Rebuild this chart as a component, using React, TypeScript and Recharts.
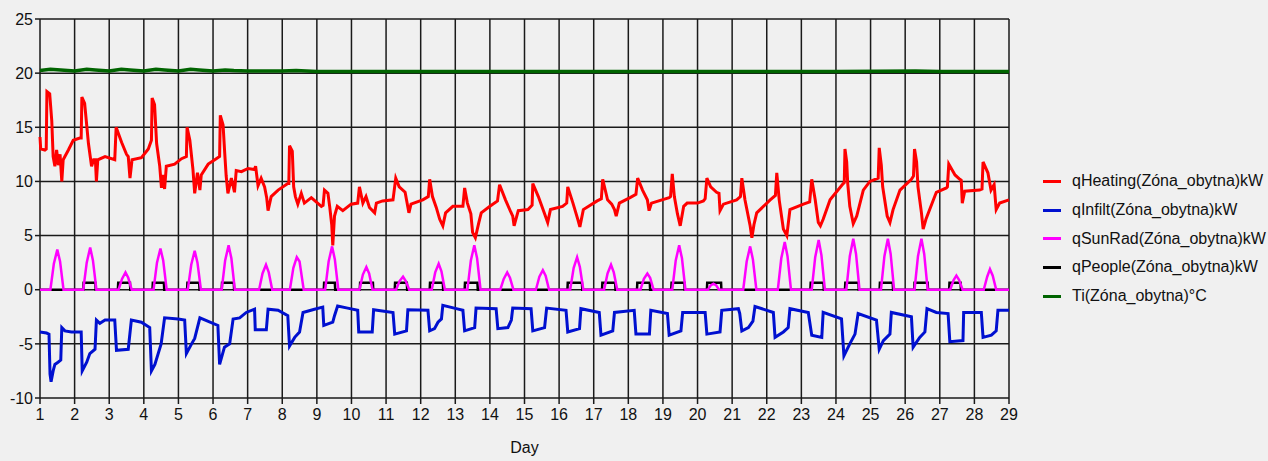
import { LineChart, Line, XAxis, YAxis, CartesianGrid } from "recharts";

type Pt = [number, number];

const DAYS = [1, 2, 3, 4, 5, 6, 7, 8, 9, 10, 11, 12, 13, 14, 15, 16, 17, 18, 19, 20, 21, 22, 23, 24, 25, 26, 27, 28, 29];
const Y_TICKS = [-10, -5, 0, 5, 10, 15, 20, 25];

// [day, kW]
const HEATING: Pt[] = [
  [1.0, 14.1], [1.02, 13.0], [1.14, 12.9], [1.18, 13.0], [1.2, 18.3], [1.28, 18.1], [1.34, 15.6], [1.38, 12.3], [1.43, 11.4],
  [1.48, 12.9], [1.53, 11.5], [1.58, 12.5], [1.63, 10.0], [1.67, 12.0], [1.82, 12.9], [1.96, 13.8], [2.15, 14.0], [2.19, 14.0],
  [2.21, 17.8], [2.29, 17.2], [2.4, 13.5], [2.49, 11.4], [2.55, 12.0], [2.6, 12.0], [2.63, 10.0], [2.67, 12.0], [2.88, 12.3],
  [3.16, 12.0], [3.2, 15.0], [3.36, 13.6], [3.5, 12.5], [3.55, 12.3], [3.6, 10.3], [3.66, 12.0], [3.93, 12.2], [4.13, 13.0],
  [4.22, 13.8], [4.24, 17.7], [4.31, 17.1], [4.37, 13.5], [4.46, 11.4], [4.51, 9.4], [4.55, 10.6], [4.6, 9.3], [4.65, 11.4],
  [4.89, 11.6], [5.09, 12.1], [5.23, 12.3], [5.25, 15.0], [5.33, 13.8], [5.42, 11.1], [5.47, 8.9], [5.55, 10.8], [5.62, 9.2],
  [5.66, 10.6], [5.86, 11.6], [6.05, 12.0], [6.19, 12.3], [6.21, 16.1], [6.29, 15.2], [6.34, 12.5], [6.38, 10.5], [6.43, 8.9],
  [6.53, 10.3], [6.62, 9.0], [6.67, 11.0], [6.82, 10.9], [7.01, 11.2], [7.2, 11.1], [7.23, 11.4], [7.3, 9.6], [7.39, 10.3],
  [7.49, 9.5], [7.55, 8.5], [7.59, 7.3], [7.68, 8.6], [7.88, 9.2], [8.16, 9.8], [8.19, 9.8], [8.21, 13.3], [8.29, 12.8],
  [8.33, 9.5], [8.38, 8.6], [8.45, 7.9], [8.55, 8.9], [8.64, 8.0], [8.84, 8.5], [9.13, 7.7], [9.18, 7.8], [9.22, 9.2],
  [9.32, 8.9], [9.37, 7.7], [9.43, 6.0], [9.46, 4.1], [9.51, 6.8], [9.59, 7.7], [9.75, 7.3], [9.99, 7.9], [10.18, 8.0],
  [10.23, 9.5], [10.33, 8.0], [10.42, 8.6], [10.52, 7.6], [10.67, 7.1], [10.72, 8.0], [10.9, 8.2], [11.2, 8.3], [11.28, 10.3],
  [11.38, 9.5], [11.55, 9.0], [11.66, 7.1], [11.72, 7.9], [12.06, 8.3], [12.22, 8.6], [12.26, 10.2], [12.34, 8.6], [12.45, 7.6],
  [12.55, 6.5], [12.64, 5.9], [12.72, 7.1], [12.93, 7.7], [13.22, 7.7], [13.27, 9.4], [13.35, 8.0], [13.45, 7.0], [13.5, 5.3],
  [13.58, 4.8], [13.68, 6.2], [13.75, 7.1], [14.0, 7.7], [14.22, 8.2], [14.28, 9.7], [14.45, 8.3], [14.6, 7.2], [14.66, 6.8],
  [14.7, 5.9], [14.82, 7.3], [15.1, 7.4], [15.22, 7.8], [15.24, 9.8], [15.4, 8.6], [15.57, 7.1], [15.67, 6.2], [15.75, 7.4],
  [16.1, 7.7], [16.22, 8.0], [16.25, 9.5], [16.4, 8.0], [16.54, 6.5], [16.6, 5.8], [16.7, 7.4], [17.1, 8.2], [17.22, 8.4],
  [17.26, 10.2], [17.4, 8.3], [17.52, 7.9], [17.6, 7.4], [17.65, 6.8], [17.74, 8.0], [18.05, 8.5], [18.22, 8.8], [18.27, 10.3],
  [18.41, 9.2], [18.55, 8.3], [18.6, 7.3], [18.67, 8.0], [19.18, 8.5], [19.22, 8.6], [19.27, 10.7], [19.33, 8.6], [19.42, 7.0],
  [19.5, 5.9], [19.6, 7.7], [19.7, 8.0], [20.0, 8.0], [20.17, 8.2], [20.22, 8.4], [20.27, 10.3], [20.38, 9.5], [20.55, 9.0],
  [20.62, 8.9], [20.65, 7.3], [20.75, 7.9], [21.13, 8.3], [21.24, 8.6], [21.28, 10.3], [21.37, 8.3], [21.52, 5.9], [21.57, 4.8],
  [21.63, 6.0], [21.71, 7.1], [22.1, 8.3], [22.25, 8.7], [22.29, 10.8], [22.36, 8.3], [22.48, 5.6], [22.58, 5.0], [22.67, 7.4],
  [23.06, 7.9], [23.24, 8.1], [23.3, 10.2], [23.4, 8.3], [23.49, 6.2], [23.55, 5.9], [23.63, 6.5], [23.83, 8.3], [24.21, 9.8],
  [24.24, 9.9], [24.26, 13.0], [24.31, 11.8], [24.34, 9.8], [24.4, 7.7], [24.5, 6.1], [24.6, 6.8], [24.79, 9.2], [24.98, 10.0],
  [25.22, 10.3], [25.25, 13.1], [25.31, 11.5], [25.35, 9.5], [25.48, 6.8], [25.56, 6.2], [25.65, 7.4], [25.85, 9.2], [26.18, 10.2],
  [26.24, 10.5], [26.27, 13.0], [26.33, 11.8], [26.37, 9.5], [26.47, 7.1], [26.52, 5.6], [26.6, 6.5], [26.9, 9.0], [27.19, 9.4],
  [27.22, 9.5], [27.26, 11.6], [27.44, 10.6], [27.58, 10.2], [27.62, 10.1], [27.65, 8.0], [27.72, 9.1], [28.15, 9.2], [28.22, 9.3],
  [28.25, 11.8], [28.39, 10.8], [28.48, 9.2], [28.57, 9.7], [28.63, 7.4], [28.73, 8.0], [29.0, 8.3],
];

const INFILT: Pt[] = [
  [1.0, -3.9], [1.19, -4.0], [1.26, -4.1], [1.29, -7.8], [1.32, -8.5], [1.38, -7.5], [1.43, -6.9], [1.52, -6.7], [1.6, -6.5],
  [1.63, -3.5], [1.72, -3.8], [1.91, -3.9], [2.19, -3.9], [2.22, -7.5], [2.35, -6.7], [2.44, -5.9], [2.59, -5.5], [2.63, -2.8],
  [2.73, -3.1], [2.88, -2.8], [3.16, -2.8], [3.21, -5.6], [3.55, -5.5], [3.64, -2.8], [3.93, -3.0], [4.17, -3.5], [4.22, -7.5],
  [4.32, -6.9], [4.5, -5.0], [4.6, -2.6], [4.99, -2.7], [5.18, -2.8], [5.23, -5.9], [5.38, -5.0], [5.47, -4.5], [5.62, -2.6],
  [6.14, -3.3], [6.19, -6.9], [6.33, -5.3], [6.48, -5.0], [6.58, -2.7], [6.77, -2.6], [6.96, -2.1], [7.2, -1.8], [7.22, -3.7],
  [7.54, -3.7], [7.59, -1.8], [7.88, -1.9], [8.16, -2.4], [8.21, -5.2], [8.36, -4.4], [8.5, -3.9], [8.6, -2.1], [8.93, -1.8],
  [9.17, -1.6], [9.2, -3.3], [9.46, -3.0], [9.51, -2.4], [9.6, -1.5], [9.89, -1.7], [10.18, -1.9], [10.21, -3.9], [10.6, -3.9],
  [10.64, -1.85], [11.2, -2.1], [11.25, -4.1], [11.59, -3.8], [11.63, -1.85], [12.21, -1.9], [12.26, -3.8], [12.4, -3.6],
  [12.5, -3.0], [12.6, -2.7], [12.64, -1.45], [13.03, -1.75], [13.22, -1.9], [13.27, -3.8], [13.56, -3.5], [13.6, -1.7],
  [14.18, -1.75], [14.23, -3.6], [14.52, -3.5], [14.62, -2.8], [14.66, -1.7], [15.19, -1.75], [15.24, -3.8], [15.58, -3.5],
  [15.64, -1.7], [16.2, -1.9], [16.25, -3.9], [16.59, -3.6], [16.63, -1.75], [17.16, -2.1], [17.21, -4.2], [17.55, -3.8],
  [17.6, -2.1], [18.17, -1.9], [18.22, -4.1], [18.61, -4.1], [18.65, -1.9], [19.13, -2.2], [19.18, -4.2], [19.52, -3.8],
  [19.57, -2.1], [20.22, -2.1], [20.27, -4.1], [20.65, -3.9], [20.7, -1.9], [21.18, -1.75], [21.22, -2.2], [21.28, -3.8],
  [21.47, -3.5], [21.6, -2.9], [21.66, -1.55], [22.19, -2.1], [22.24, -4.4], [22.48, -3.9], [22.62, -3.5], [22.67, -1.75],
  [23.2, -2.1], [23.3, -4.2], [23.59, -4.4], [23.63, -2.1], [24.16, -2.7], [24.23, -6.1], [24.4, -5.0], [24.55, -4.1],
  [24.64, -2.2], [25.17, -2.8], [25.25, -5.5], [25.37, -4.7], [25.56, -4.1], [25.6, -2.1], [26.18, -2.5], [26.23, -5.3],
  [26.42, -4.4], [26.57, -3.9], [26.63, -1.75], [26.9, -2.1], [27.24, -2.2], [27.29, -4.8], [27.67, -4.7], [27.69, -2.1],
  [28.2, -2.1], [28.25, -4.4], [28.49, -4.2], [28.63, -3.8], [28.68, -1.9], [29.0, -1.9],
];

const SUNRAD: Pt[] = [
  [1.0, 0], [1.3, 0], [1.4, 2.4], [1.5, 3.7], [1.58, 2.6], [1.68, 0],
  [2.25, 0], [2.35, 2.5], [2.45, 3.9], [2.53, 2.7], [2.63, 0],
  [3.27, 0], [3.37, 1.0], [3.47, 1.6], [3.55, 1.1], [3.65, 0],
  [4.28, 0], [4.38, 2.5], [4.48, 3.8], [4.56, 2.7], [4.66, 0],
  [5.27, 0], [5.37, 2.3], [5.47, 3.6], [5.55, 2.5], [5.65, 0],
  [6.25, 0], [6.35, 2.7], [6.45, 4.1], [6.53, 2.9], [6.63, 0],
  [7.33, 0], [7.43, 1.5], [7.53, 2.3], [7.61, 1.6], [7.71, 0],
  [8.22, 0], [8.32, 2.0], [8.42, 3.0], [8.5, 2.6], [8.62, 0],
  [9.24, 0], [9.34, 2.6], [9.44, 4.0], [9.52, 2.8], [9.62, 0],
  [10.23, 0], [10.33, 1.4], [10.43, 2.1], [10.51, 1.5], [10.61, 0],
  [11.29, 0], [11.39, 0.8], [11.49, 1.2], [11.57, 0.8], [11.67, 0],
  [12.32, 0], [12.42, 1.6], [12.52, 2.4], [12.6, 1.7], [12.7, 0],
  [13.35, 0], [13.45, 2.7], [13.55, 4.1], [13.63, 2.9], [13.73, 0],
  [14.3, 0], [14.4, 1.0], [14.5, 1.6], [14.58, 1.1], [14.68, 0],
  [15.33, 0], [15.43, 1.2], [15.53, 1.8], [15.61, 1.3], [15.71, 0],
  [16.32, 0], [16.42, 2.0], [16.52, 3.0], [16.6, 2.1], [16.7, 0],
  [17.3, 0], [17.4, 1.5], [17.5, 2.3], [17.58, 1.6], [17.68, 0],
  [18.35, 0], [18.45, 1.0], [18.55, 1.5], [18.63, 1.1], [18.73, 0],
  [19.27, 0], [19.37, 2.7], [19.47, 4.1], [19.55, 2.9], [19.65, 0],
  [20.3, 0], [20.38, 0.4], [20.46, 0.55], [20.54, 0.4], [20.62, 0],
  [21.32, 0], [21.42, 2.6], [21.52, 4.0], [21.6, 2.8], [21.7, 0],
  [22.32, 0], [22.42, 2.9], [22.52, 4.4], [22.6, 3.1], [22.7, 0],
  [23.3, 0], [23.4, 3.0], [23.5, 4.6], [23.58, 3.2], [23.68, 0],
  [24.3, 0], [24.4, 3.1], [24.5, 4.7], [24.58, 3.3], [24.68, 0],
  [25.3, 0], [25.4, 3.1], [25.5, 4.7], [25.58, 3.3], [25.68, 0],
  [26.27, 0], [26.37, 3.1], [26.47, 4.7], [26.55, 3.3], [26.65, 0],
  [27.3, 0], [27.4, 0.9], [27.48, 1.3], [27.56, 0.9], [27.66, 0],
  [28.27, 0], [28.37, 1.2], [28.45, 1.9], [28.53, 1.3], [28.63, 0], [29.0, 0],
];

const PEOPLE: Pt[] = [
  [1.0, 0],
  [2.25, 0], [2.26, 0.65], [2.6, 0.65], [2.61, 0],
  [3.25, 0], [3.26, 0.65], [3.6, 0.65], [3.61, 0],
  [4.25, 0], [4.26, 0.65], [4.58, 0.65], [4.59, 0],
  [5.25, 0], [5.26, 0.65], [5.6, 0.65], [5.61, 0],
  [6.25, 0], [6.26, 0.65], [6.6, 0.65], [6.61, 0],
  [9.2, 0], [9.21, 0.65], [9.52, 0.65], [9.53, 0],
  [10.24, 0], [10.25, 0.65], [10.62, 0.65], [10.63, 0],
  [11.25, 0], [11.26, 0.65], [11.6, 0.65], [11.61, 0],
  [12.26, 0], [12.27, 0.65], [12.64, 0.65], [12.65, 0],
  [13.27, 0], [13.28, 0.65], [13.64, 0.65], [13.65, 0],
  [16.24, 0], [16.25, 0.65], [16.66, 0.65], [16.67, 0],
  [17.24, 0], [17.25, 0.65], [17.62, 0.65], [17.63, 0],
  [18.25, 0], [18.26, 0.65], [18.62, 0.65], [18.63, 0],
  [19.24, 0], [19.25, 0.65], [19.62, 0.65], [19.63, 0],
  [20.27, 0], [20.28, 0.65], [20.68, 0.65], [20.69, 0],
  [23.26, 0], [23.27, 0.65], [23.64, 0.65], [23.65, 0],
  [24.26, 0], [24.27, 0.65], [24.65, 0.65], [24.66, 0],
  [25.26, 0], [25.27, 0.65], [25.64, 0.65], [25.65, 0],
  [26.26, 0], [26.27, 0.65], [26.65, 0.65], [26.66, 0],
  [27.27, 0], [27.28, 0.65], [27.6, 0.65], [27.61, 0],
  [29.0, 0],
];

// [day, °C]
const TI: Pt[] = [
  [1.0, 20.25], [1.3, 20.35], [1.6, 20.3], [2.0, 20.2], [2.35, 20.35], [2.6, 20.3], [3.0, 20.2], [3.35, 20.35], [3.6, 20.3],
  [4.0, 20.2], [4.35, 20.35], [4.6, 20.3], [5.0, 20.2], [5.35, 20.35], [5.6, 20.3], [6.0, 20.2], [6.35, 20.3], [6.6, 20.25],
  [7.0, 20.2], [8.0, 20.2], [8.4, 20.25], [9.0, 20.15], [12.0, 20.15], [16.0, 20.15], [20.0, 20.15], [24.0, 20.15],
  [26.3, 20.2], [27.0, 20.15], [29.0, 20.15],
];

const SERIES = [
  { name: "qHeating(Zóna_obytna)kW", color: "#ff0000", data: HEATING, width: 3 },
  { name: "qInfilt(Zóna_obytna)kW", color: "#0010d0", data: INFILT, width: 3 },
  { name: "qSunRad(Zóna_obytna)kW", color: "#ff00ff", data: SUNRAD, width: 2.5 },
  { name: "qPeople(Zóna_obytna)kW", color: "#000000", data: PEOPLE, width: 2.5 },
  { name: "Ti(Zóna_obytna)°C", color: "#006400", data: TI, width: 3.5 },
];

// draw order: people under sun, heating and Ti on top
const DRAW_ORDER = [3, 2, 1, 0, 4];

const toPts = (arr: Pt[]) => arr.map(([day, v]) => ({ day, v }));

const FONT = "'Liberation Sans', Arial, sans-serif";

function LegendBox() {
  return (
    <div style={{ position: "absolute", left: 1043, top: 167, fontFamily: FONT, fontSize: 16, color: "#111" }}>
      {SERIES.map((s) => (
        <div key={s.name} style={{ display: "flex", alignItems: "center", height: 28.7, whiteSpace: "nowrap" }}>
          <span style={{ display: "inline-block", width: 18, height: 3, background: s.color, marginRight: 11 }} />
          <span>{s.name}</span>
        </div>
      ))}
    </div>
  );
}

export default function App() {
  return (
    <div style={{ position: "absolute", left: 0, top: 0, width: 1268, height: 461, background: "#f0f0f0" }}>
      <LineChart width={1268} height={461} margin={{ top: 19, right: 259, bottom: 0, left: 0 }}>
        <CartesianGrid stroke="#1a1a1a" strokeWidth={1.5} />
        <XAxis
          type="number"
          dataKey="day"
          domain={[1, 29]}
          ticks={DAYS}
          allowDuplicatedCategory={false}
          height={63}
          axisLine={false}
          tickSize={6}
          tickMargin={5}
          tickLine={{ stroke: "#1a1a1a", strokeWidth: 1.5 }}
          tick={{ fontSize: 16, fill: "#111", fontFamily: FONT }}
          label={{ value: "Day", position: "insideBottom", offset: 8, fontSize: 16, fill: "#111", fontFamily: FONT }}
        />
        <YAxis
          type="number"
          domain={[-10, 25]}
          ticks={Y_TICKS}
          width={40}
          axisLine={false}
          tickSize={5}
          tickMargin={2}
          tickLine={{ stroke: "#1a1a1a", strokeWidth: 1.5 }}
          tick={{ fontSize: 16, fill: "#111", fontFamily: FONT }}
        />
        {DRAW_ORDER.map((i) => {
          const s = SERIES[i];
          return (
            <Line
              key={s.name}
              name={s.name}
              data={toPts(s.data)}
              dataKey="v"
              type="linear"
              stroke={s.color}
              strokeWidth={s.width}
              dot={false}
              activeDot={false}
              isAnimationActive={false}
            />
          );
        })}
      </LineChart>
      <LegendBox />
    </div>
  );
}
